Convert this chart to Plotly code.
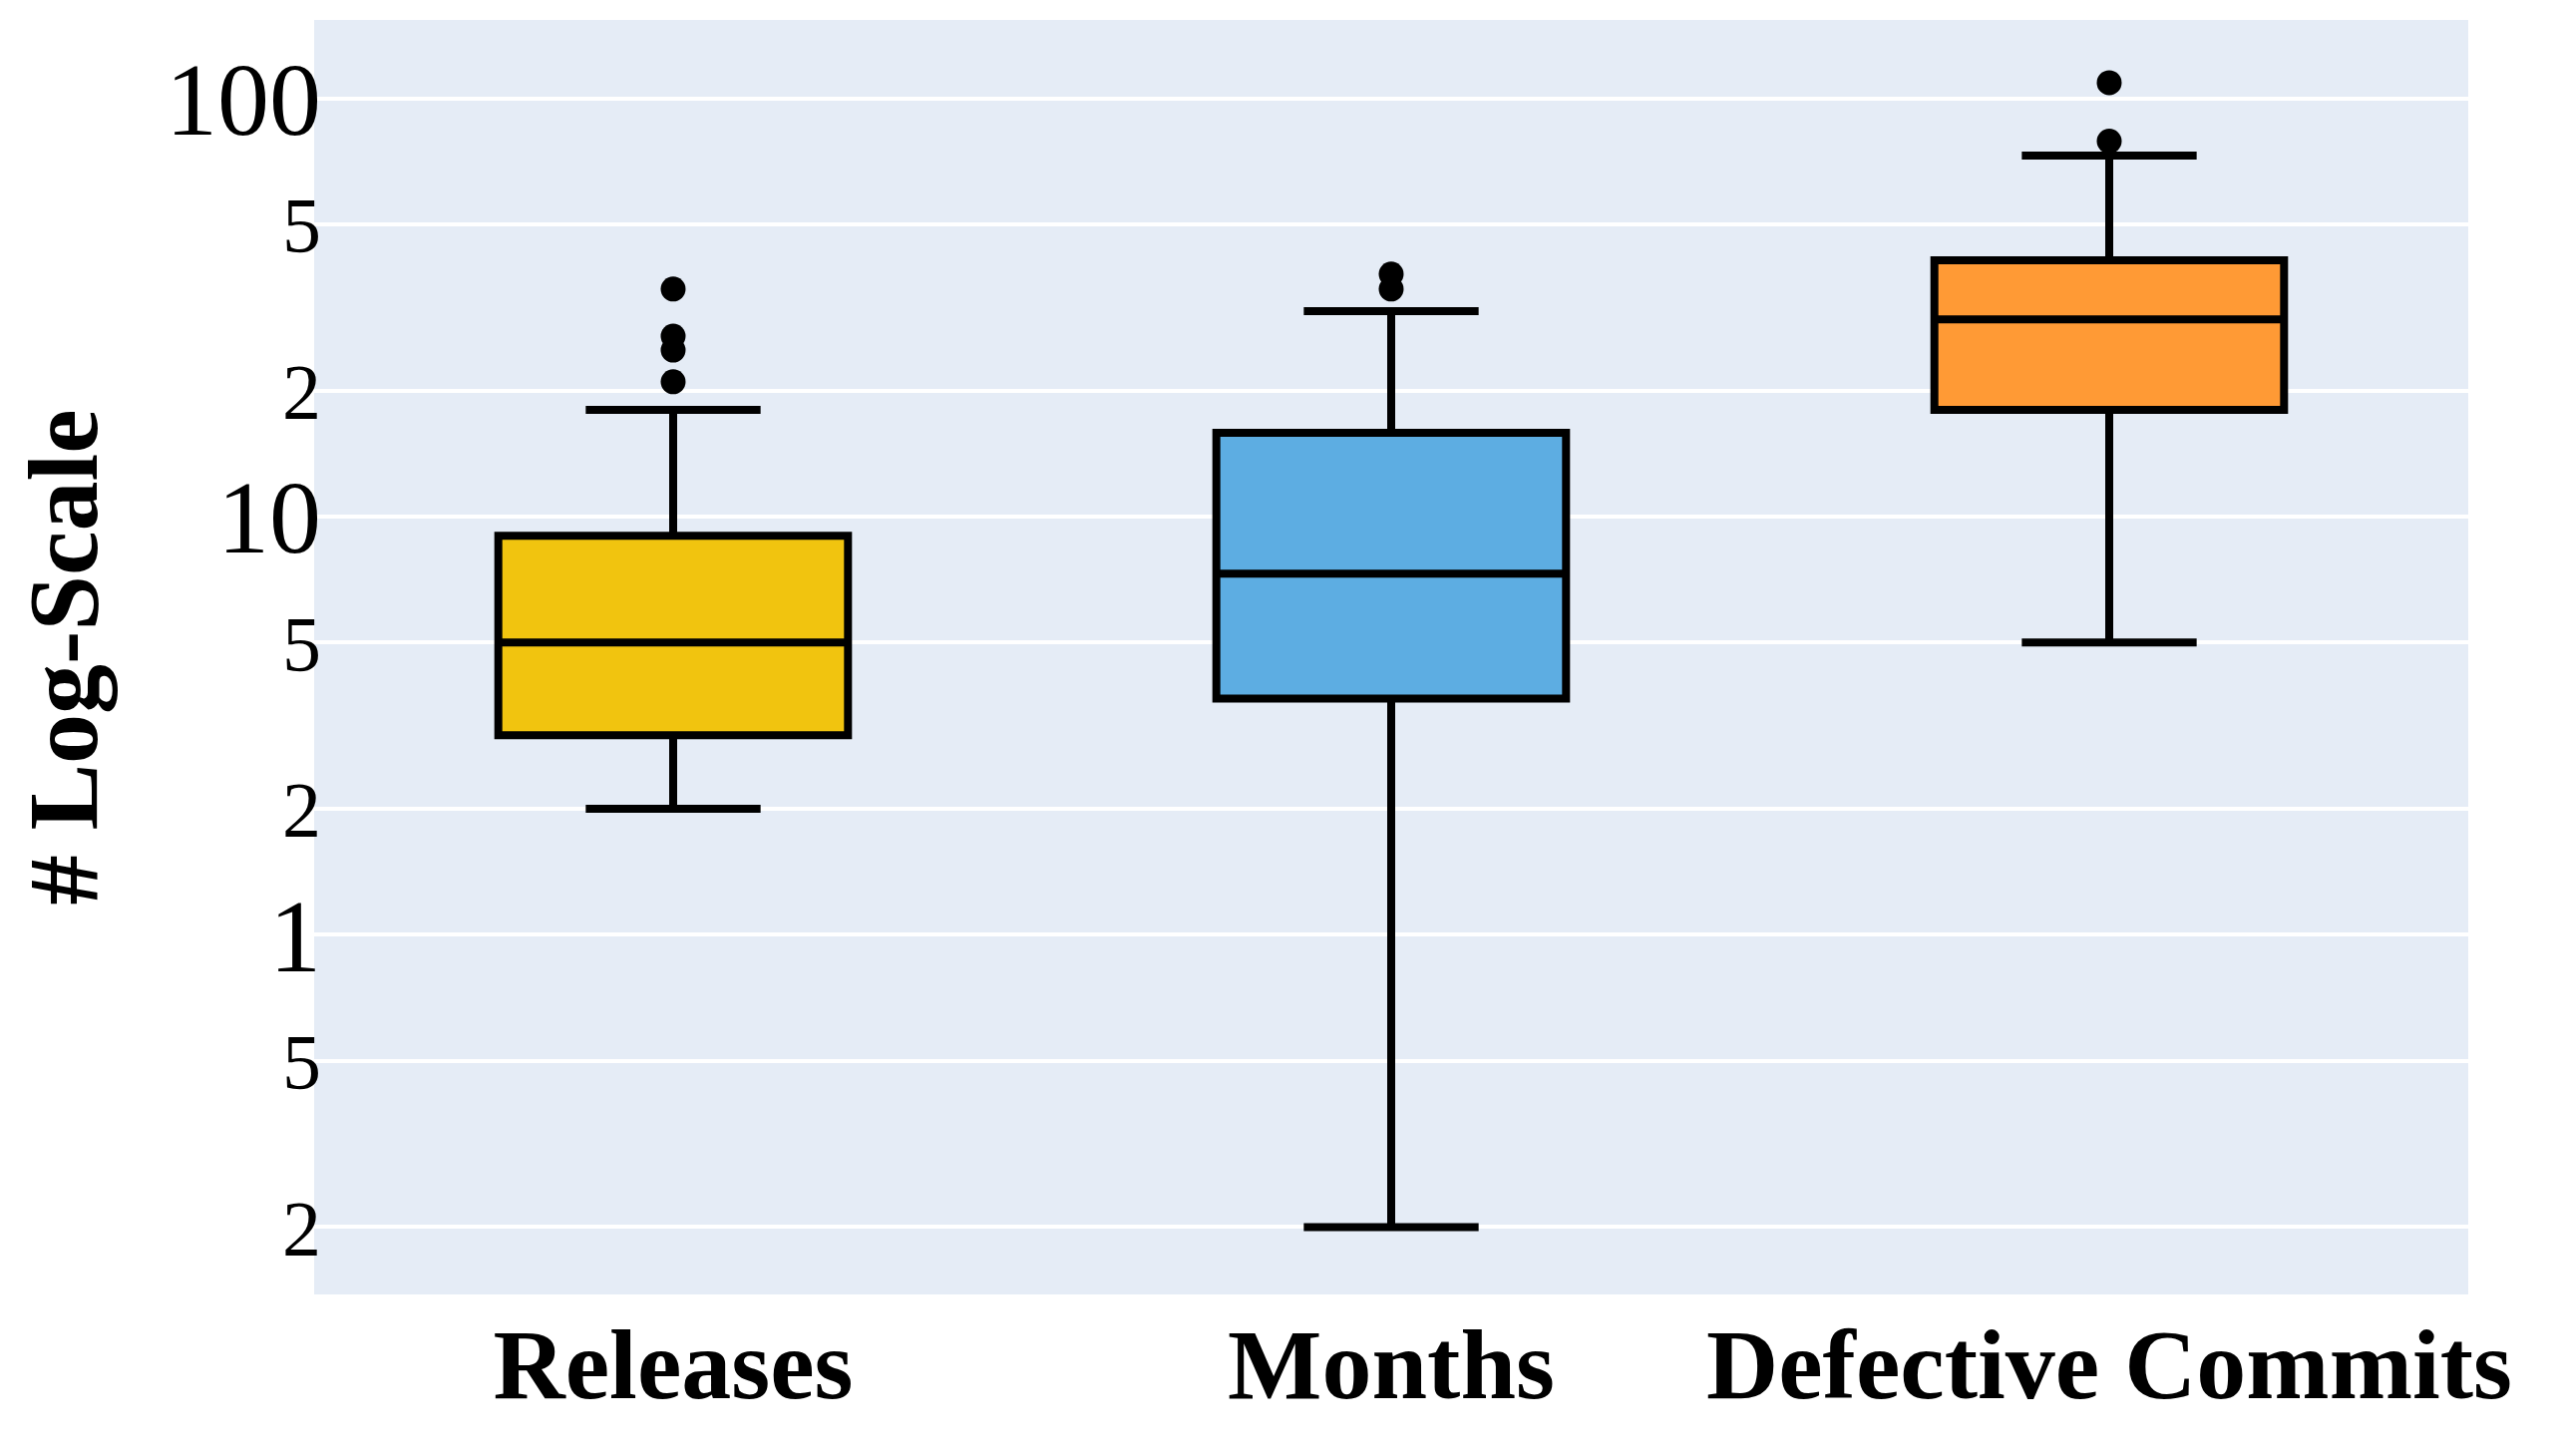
import plotly.graph_objects as go

categories = ["Releases", "Months", "Defective Commits"]
colors = ["#F1C40F", "#5DADE2", "#FF9A35"]

q1 = [3.0, 3.67, 18.0]
median = [5.0, 7.3, 29.6]
q3 = [9.0, 15.85, 41.0]
lowerfence = [2.0, 0.2, 5.0]
upperfence = [18.0, 31.0, 73.0]

outliers = {
    "Releases": [21, 25, 27, 35],
    "Months": [35, 38],
    "Defective Commits": [79, 109],
}

FONT = "Times New Roman, Liberation Serif, serif"

fig = go.Figure()
for i, cat in enumerate(categories):
    fig.add_trace(go.Box(
        x=[cat],
        q1=[q1[i]], median=[median[i]], q3=[q3[i]],
        lowerfence=[lowerfence[i]], upperfence=[upperfence[i]],
        fillcolor=colors[i],
        line=dict(color="black", width=8),
        width=0.487,
        whiskerwidth=0.5,
        boxpoints=False,
        showlegend=False,
        hoverinfo="skip",
    ))

ox, oy = [], []
for cat in categories:
    for v in outliers[cat]:
        ox.append(cat)
        oy.append(v)
fig.add_trace(go.Scatter(
    x=ox, y=oy, mode="markers",
    marker=dict(color="black", size=25),
    showlegend=False, hoverinfo="skip",
))

fig.update_layout(
    width=2566, height=1460,
    margin=dict(l=307, r=99, t=12, b=170),
    paper_bgcolor="white",
    plot_bgcolor="#E5ECF6",
    font=dict(family=FONT, color="black", size=100),
    xaxis=dict(
        type="category",
        categoryorder="array",
        categoryarray=categories,
        range=[-0.5, 2.5],
        showgrid=False,
        zeroline=False,
        showline=False,
        tickfont=dict(family=FONT, size=100, color="black", weight="bold"),
        ticks="", ticklabelstandoff=3,
    ),
    yaxis=dict(
        type="log",
        range=[-0.86, 2.1875],
        showgrid=True, gridcolor="white", gridwidth=4,
        zeroline=False, showline=False,
        tickfont=dict(family=FONT, size=104, color="black"),
        ticklabelstandoff=-8,
        title=dict(text="<b># Log-Scale</b>", font=dict(family=FONT, size=100, color="black"), standoff=64),
    ),
)

fig.write_html("out.html")
